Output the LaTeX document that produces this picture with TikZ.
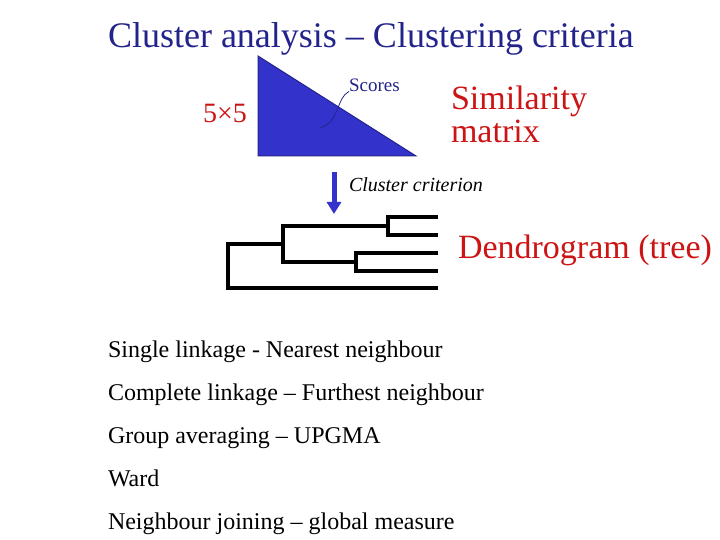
\documentclass[tikz,border=0pt]{standalone}
\usepackage{fontspec}
\usetikzlibrary{arrows.meta}
\setmainfont{Liberation Serif}
\definecolor{navy}{RGB}{35,35,140}
\definecolor{triblue}{RGB}{51,51,204}
\definecolor{tred}{RGB}{204,20,20}
\begin{document}
\begin{tikzpicture}[x=1pt,y=-1pt,
  every node/.style={inner sep=0pt,outer sep=0pt},
  dend/.style={line width=4pt,line cap=rect,line join=miter},
  listitem/.style={anchor=base west,font=\fontsize{24}{28}\selectfont},
  redtext/.style={text=tred}]
\useasboundingbox (0,0) rectangle (720,540);
\node[anchor=base west,text=navy,font=\fontsize{36}{40}\selectfont] (title) at (108,48) {Cluster analysis – Clustering criteria};
% triangle
\coordinate (tA) at (258,56);
\coordinate (tB) at (258,156);
\coordinate (tC) at (416,156);
\fill[triblue,draw=navy,line width=1pt] (tA) -- (tB) -- (tC) -- cycle;
\node[anchor=west,text=navy,font=\fontsize{19}{22}\selectfont] (scores) at (349,85) {Scores};
\coordinate (sc0) at (320,128);
\draw[navy,line width=0.8pt] (sc0) .. controls (340,122) and (336,98) .. (scores.south west);
\node[redtext,font=\fontsize{28}{32}\selectfont] (five) at (225,113) {5×5};
\node[redtext,anchor=west,align=left,font=\fontsize{34}{33}\selectfont] (sim) at (451,114) {Similarity\\matrix};
% arrow
\coordinate (a0) at (334,172);
\coordinate (a1) at (334,214);
\draw[triblue,line width=5pt,-{Triangle[length=12pt,width=14pt]}] (a0) -- (a1);
\node[anchor=west,font=\itshape\fontsize{20}{23}\selectfont] (crit) at (349,185) {Cluster criterion};
% dendrogram
\coordinate (l1) at (436,217);
\coordinate (l2) at (436,235);
\coordinate (l3) at (436,253);
\coordinate (l4) at (436,271);
\coordinate (l5) at (436,288);
\draw[dend] (l1) -- (388,217) -- (388,235) -- (l2);
\draw[dend] (l3) -- (356,253) -- (356,271) -- (l4);
\draw[dend] (388,226) -- (283,226) -- (283,262) -- (356,262);
\draw[dend] (283,244) -- (228,244) -- (228,288) -- (l5);
\node[redtext,anchor=west,font=\fontsize{34}{38}\selectfont] (dendro) at (458,250) {Dendrogram (tree)};
% list
\node[listitem] (i1) at (108,357) {Single linkage - Nearest neighbour};
\node[listitem] (i2) at (108,400) {Complete linkage – Furthest neighbour};
\node[listitem] (i3) at (108,443) {Group averaging – UPGMA};
\node[listitem] (i4) at (108,486) {Ward};
\node[listitem] (i5) at (108,529) {Neighbour joining – global measure};
\end{tikzpicture}
\end{document}
